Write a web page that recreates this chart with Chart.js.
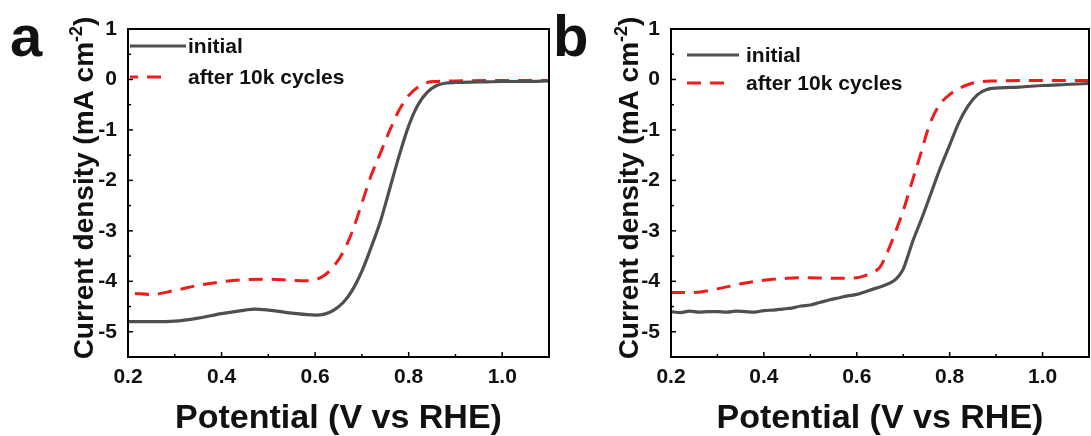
<!DOCTYPE html>
<html>
<head>
<meta charset="utf-8">
<script src="https://cdn.jsdelivr.net/npm/chart.js@4.4.1/dist/chart.umd.min.js"></script>
<style>
  body { margin: 0; background: #fff; }
  #wrap { position: relative; width: 1091px; height: 436px; overflow: hidden; }
  canvas { position: absolute; top: 0; }
</style>
</head>
<body>
<div id="wrap">
  <canvas id="panelA" width="552" height="436" style="left:0"></canvas>
  <canvas id="panelB" width="545" height="436" style="left:546px"></canvas>
</div>
<script>
// axis ticks
const xTickValues = [0.2, 0.4, 0.6, 0.8, 1.0];
const xMinorValues = [0.3, 0.5, 0.7, 0.9];
const yTickValues = [1, 0, -1, -2, -3, -4, -5];
const yMinorValues = [0.5, -0.5, -1.5, -2.5, -3.5, -4.5];

const seriesNames = ['initial', 'after 10k cycles'];

// panel a
const aInitV = [0.2, 0.25, 0.3, 0.35, 0.4, 0.45, 0.47, 0.5, 0.55, 0.6, 0.62, 0.64, 0.66, 0.68, 0.7, 0.72, 0.74, 0.76, 0.78, 0.8, 0.82, 0.84, 0.86, 0.88, 0.9, 0.95, 1.0, 1.05, 1.1];
const aInitJ = [-4.8, -4.8, -4.79, -4.73, -4.64, -4.57, -4.55, -4.57, -4.63, -4.67, -4.65, -4.57, -4.42, -4.17, -3.8, -3.32, -2.8, -2.15, -1.5, -0.92, -0.5, -0.25, -0.12, -0.07, -0.06, -0.05, -0.04, -0.04, -0.03];
const aAfterV = [0.215, 0.25, 0.3, 0.35, 0.4, 0.45, 0.5, 0.55, 0.58, 0.6, 0.62, 0.64, 0.66, 0.68, 0.7, 0.72, 0.74, 0.76, 0.78, 0.8, 0.82, 0.84, 0.86, 0.9, 1.0, 1.1];
const aAfterJ = [-4.24, -4.26, -4.18, -4.08, -4.01, -3.97, -3.96, -3.98, -3.99, -3.97, -3.88, -3.7, -3.42, -3.0, -2.45, -1.9, -1.45, -1.0, -0.6, -0.32, -0.15, -0.06, -0.04, -0.03, -0.02, -0.02];

// panel b
const bInitV = [0.2, 0.22, 0.24, 0.26, 0.28, 0.3, 0.32, 0.34, 0.36, 0.38, 0.4, 0.42, 0.44, 0.46, 0.48, 0.5, 0.52, 0.54, 0.56, 0.58, 0.6, 0.62, 0.64, 0.66, 0.68, 0.69, 0.7, 0.71, 0.72, 0.74, 0.76, 0.78, 0.8, 0.82, 0.84, 0.86, 0.88, 0.9, 0.95, 1.0, 1.05, 1.1];
const bInitJ = [-4.6, -4.62, -4.59, -4.61, -4.6, -4.6, -4.61, -4.59, -4.6, -4.61, -4.58, -4.57, -4.55, -4.53, -4.49, -4.47, -4.42, -4.37, -4.33, -4.29, -4.26, -4.2, -4.14, -4.08, -3.99, -3.9, -3.76, -3.5, -3.22, -2.75, -2.25, -1.75, -1.3, -0.85, -0.52, -0.3, -0.2, -0.17, -0.15, -0.12, -0.1, -0.08];
const bAfterV = [0.2, 0.25, 0.3, 0.35, 0.4, 0.45, 0.5, 0.55, 0.6, 0.62, 0.64, 0.65, 0.66, 0.68, 0.7, 0.72, 0.74, 0.75, 0.76, 0.78, 0.8, 0.82, 0.84, 0.86, 0.9, 1.0, 1.1];
const bAfterJ = [-4.22, -4.22, -4.15, -4.05, -3.98, -3.94, -3.93, -3.94, -3.93, -3.88, -3.8, -3.72, -3.55, -3.1, -2.6, -2.0, -1.4, -1.08, -0.82, -0.48, -0.3, -0.18, -0.1, -0.05, -0.03, -0.02, -0.02];

const GREY = '#4f4f4f';
const RED = '#f31a1a';
const FONT = "'Liberation Sans', Arial, sans-serif";

Chart.defaults.font.family = FONT;

function pts(xs, ys) {
  return xs.map((v, i) => ({ x: v, y: ys[i] }));
}

const framePlugin = {
  id: 'frame',
  afterDraw(chart, args, o) {
    const { ctx, chartArea: a, scales } = chart;
    const x = scales.x, y = scales.y;
    ctx.save();
    ctx.strokeStyle = '#000';
    ctx.lineWidth = 1.5;
    // inward ticks
    const tick = (px, len, horiz) => {
      ctx.beginPath();
      if (horiz) { ctx.moveTo(px, a.bottom); ctx.lineTo(px, a.bottom - len); }
      else { ctx.moveTo(a.left, px); ctx.lineTo(a.left + len, px); }
      ctx.stroke();
    };
    xTickValues.forEach(v => tick(x.getPixelForValue(v), 5, true));
    xMinorValues.forEach(v => tick(x.getPixelForValue(v), 3, true));
    yTickValues.forEach(v => tick(y.getPixelForValue(v), 5, false));
    yMinorValues.forEach(v => tick(y.getPixelForValue(v), 3, false));
    ctx.lineWidth = 2;
    ctx.strokeRect(a.left, a.top, a.right - a.left, a.bottom - a.top);

    // legend
    ctx.font = 'bold 21px ' + FONT;
    ctx.textBaseline = 'middle';
    ctx.fillStyle = '#111';
    chart.data.datasets.forEach((ds, i) => {
      const ly = o.legendY[i];
      ctx.save();
      ctx.strokeStyle = ds.borderColor;
      ctx.lineWidth = ds.borderWidth;
      ctx.setLineDash(ds.borderDash || []);
      ctx.lineDashOffset = o.dashOffset || 0;
      ctx.beginPath();
      ctx.moveTo(o.legendX, ly);
      ctx.lineTo(o.legendX + o.sampleLen[i], ly);
      ctx.stroke();
      ctx.restore();
      ctx.fillText(ds.label, o.legendTextX, ly + 1);
    });

    // panel letter
    ctx.font = 'bold 58px ' + FONT;
    ctx.textBaseline = 'alphabetic';
    ctx.textAlign = 'left';
    ctx.fillText(o.letter, o.letterX, 56);

    // x title
    ctx.font = 'bold 34px ' + FONT;
    ctx.textAlign = 'center';
    ctx.fillText('Potential (V vs RHE)', (a.left + a.right) / 2, 428);

    // y title with superscript
    ctx.translate(o.yTitleX, 188);
    ctx.rotate(-Math.PI / 2);
    const big = 'bold 28px ' + FONT, small = 'bold 18px ' + FONT;
    const parts = [['Current density (mA cm', big, 0], ['-2', small, -11], [')', big, 0]];
    let total = 0;
    parts.forEach(p => { ctx.font = p[1]; total += ctx.measureText(p[0]).width; });
    let cx = -total / 2;
    ctx.textAlign = 'left';
    ctx.textBaseline = 'alphabetic';
    parts.forEach(p => {
      ctx.font = p[1];
      ctx.fillText(p[0], cx, 10 + p[2]);
      cx += ctx.measureText(p[0]).width;
    });
    ctx.restore();
  }
};

function makePanel(id, initPts, afterPts, yWidth, padRight, frameOpts) {
  return new Chart(id, {
    type: 'line',
    data: {
      datasets: [
        { label: seriesNames[0], data: initPts, borderColor: GREY, borderWidth: 3.2, pointRadius: 0, cubicInterpolationMode: 'monotone' },
        { label: seriesNames[1], data: afterPts, borderColor: RED, borderWidth: 3, borderDash: [14, 9], pointRadius: 0, cubicInterpolationMode: 'monotone' }
      ]
    },
    options: {
      responsive: false,
      animation: false,
      devicePixelRatio: 1,
      layout: { padding: { left: 0, right: padRight, top: 29, bottom: 0 } },
      plugins: { legend: { display: false }, tooltip: { enabled: false }, frame: frameOpts },
      scales: {
        x: {
          type: 'linear', min: 0.2, max: 1.1,
          afterBuildTicks: s => { s.ticks = xTickValues.map(v => ({ value: v })); },
          afterFit: s => { s.height = 79; },
          grid: { display: false, drawTicks: false },
          border: { display: false },
          ticks: { padding: 8, color: '#111', font: { size: 21, weight: 'bold' }, maxRotation: 0, callback: v => v.toFixed(1) }
        },
        y: {
          type: 'linear', min: -5.5, max: 1,
          afterBuildTicks: s => { s.ticks = yTickValues.map(v => ({ value: v })); },
          afterFit: s => { s.width = yWidth; },
          grid: { display: false, drawTicks: false },
          border: { display: false },
          ticks: { padding: 11, color: '#111', font: { size: 21, weight: 'bold' }, callback: v => String(v) }
        }
      }
    },
    plugins: [framePlugin]
  });
}

makePanel('panelA', pts(aInitV, aInitJ), pts(aAfterV, aAfterJ), 128, 3, {
  letter: 'a', letterX: 10, yTitleX: 83,
  legendX: 130, legendTextX: 188, legendY: [46, 77], sampleLen: [56, 38], dashOffset: 6
});
makePanel('panelB', pts(bInitV, bInitJ), pts(bAfterV, bAfterJ), 125, 2, {
  letter: 'b', letterX: 7, yTitleX: 82,
  legendX: 141, legendTextX: 200, legendY: [55, 83], sampleLen: [52, 46], dashOffset: 0
});
</script>
</body>
</html>
